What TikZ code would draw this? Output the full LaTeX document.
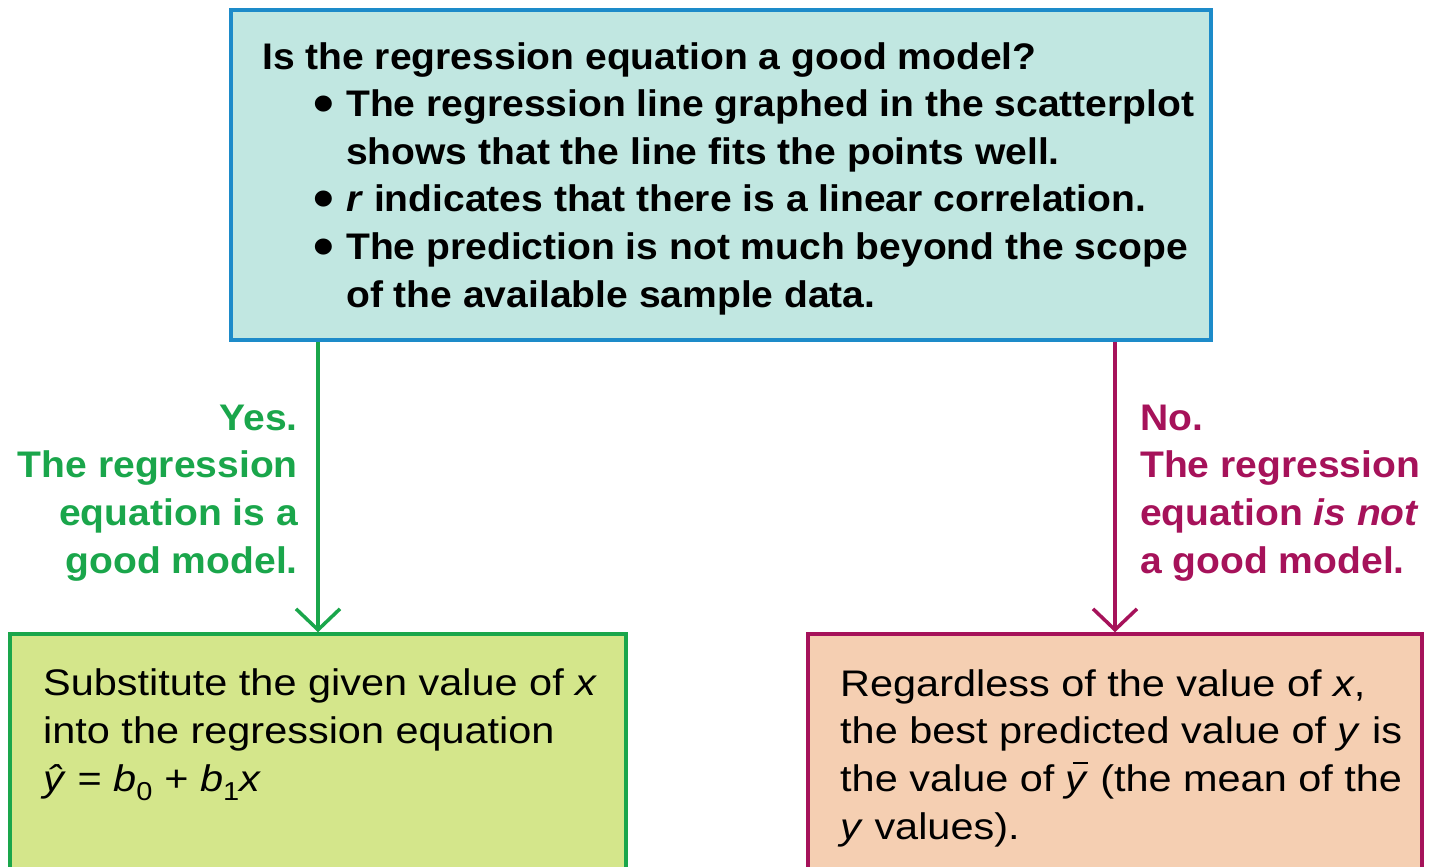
\documentclass[tikz,border=0pt]{standalone}
\usepackage{fontspec}
\setmainfont{Liberation Sans}
\newfontfamily\regf{Liberation Sans}[FakeStretch=1.12]
\newfontfamily\boldf{Liberation Sans}[FakeStretch=1.055]
\usetikzlibrary{arrows.meta}
\definecolor{qblue}{RGB}{29,139,201}
\definecolor{qfill}{RGB}{193,231,225}
\definecolor{ygreen}{RGB}{26,166,75}
\definecolor{yfill}{RGB}{212,230,139}
\definecolor{nred}{RGB}{166,18,90}
\definecolor{nfill}{RGB}{245,207,178}
\newcommand\mybul{\makebox[33pt][l]{\raisebox{-6pt}{\fontsize{56}{56}\selectfont •}}}
\newcommand\ybar{\textit{y}\llap{\rule[27pt]{15pt}{2.4pt}\hspace{1pt}}}
\tikzset{
  box/.style={rectangle, line width=3.5pt, inner sep=0pt},
  qbox/.style={box, draw=qblue, fill=qfill},
  ybox/.style={box, draw=ygreen, fill=yfill},
  nbox/.style={box, draw=nred, fill=nfill},
  hdtext/.style={inner sep=0pt, align=left, font=\boldf\bfseries\fontsize{37}{47.6}\selectfont},
  lbltext/.style={inner sep=0pt, font=\boldf\bfseries\fontsize{37}{47.6}\selectfont},
  bodytext/.style={inner sep=0pt, align=left, font=\regf\fontsize{37}{47.6}\selectfont},
  arr/.style={line width=3.5pt, -{Straight Barb[length=21pt,width=44pt]}}
}
\begin{document}
\begin{tikzpicture}[x=1pt,y=-1pt]
\useasboundingbox (0,0) rectangle (1429,867);
\fill[white] (0,0) rectangle (1429,867);
% boxes
\node[qbox, minimum width=980pt, minimum height=330pt] (q) at (721,175) {};
\node[ybox, minimum width=616pt, minimum height=246pt] (bl) at (318,757) {};
\node[nbox, minimum width=614pt, minimum height=246pt] (br) at (1115,757) {};
% texts (anchor at the baseline of the last line)
\node[hdtext, anchor=base west] (qt) at (262,307) {Is the regression equation a good model?\\
\hspace*{51pt}\mybul The regression line graphed in the scatterplot\\
\hspace*{84pt}shows that the line fits the points well.\\
\hspace*{51pt}\mybul\textit{r} indicates that there is a linear correlation.\\
\hspace*{51pt}\mybul The prediction is not much beyond the scope\\
\hspace*{84pt}of the available sample data.};
\node[lbltext, text=ygreen, align=right, anchor=base east] (yl) at (298,573) {Yes.\\The regression\\equation is a\\good model.};
\node[lbltext, text=nred, align=left, anchor=base west] (nl) at (1140,573) {No.\\The regression\\equation \textit{is not}\\a good model.};
\node[bodytext, anchor=base west] (blt) at (43,791) {Substitute the given value of \textit{x}\\into the regression equation\\\textit{ŷ} = \textit{b}\textsubscript{0} + \textit{b}\textsubscript{1}\textit{x}};
\node[bodytext, anchor=base west] (brt) at (840,839) {Regardless of the value of \textit{x},\\the best predicted value of \textit{y} is\\the value of \ybar{} (the mean of the\\\textit{y} values).};
% connectors
\draw[arr, ygreen] (q.south -| bl.north) -- (bl.north);
\draw[arr, nred] (q.south -| br.north) -- (br.north);
\end{tikzpicture}
\end{document}
